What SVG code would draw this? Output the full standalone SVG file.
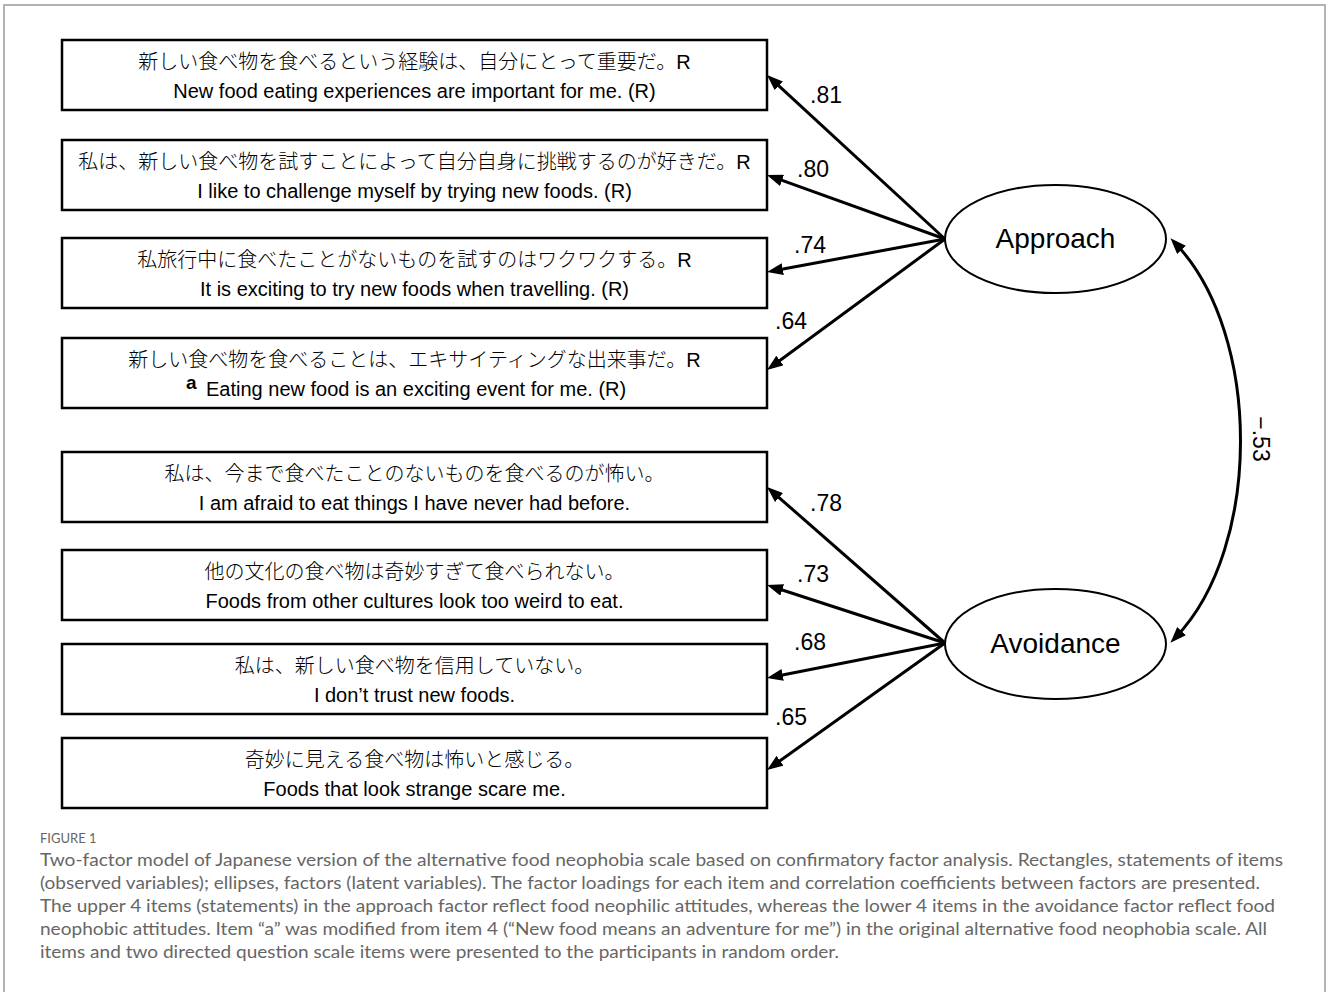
<svg xmlns="http://www.w3.org/2000/svg" width="1328" height="992" viewBox="0 0 1328 992">
<style>
.frame{fill:none;stroke:#b3b3b3;stroke-width:2}
.box{fill:#fff;stroke:#000;stroke-width:2.5}
.ell{fill:#fff;stroke:#000;stroke-width:2}
.jp{font-family:"Noto Sans CJK JP","Noto Sans CJK SC",sans-serif;font-size:20px;font-weight:300;fill:#000;text-anchor:middle}
.r{font-family:"Liberation Sans",Arial,sans-serif;font-weight:400}
.en{font-family:"Liberation Sans",Arial,sans-serif;font-size:20px;fill:#000;text-anchor:middle}
.lab{font-family:"Liberation Sans",Arial,sans-serif;font-size:23px;fill:#000}
.fac{font-family:"Liberation Sans",Arial,sans-serif;font-size:28px;fill:#000;text-anchor:middle}
.arr{fill:none;stroke:#000;stroke-width:3}
.figlab{font-family:Lato,"Open Sans",sans-serif;font-size:13px;fill:#666}
.cap{font-family:Lato,"Open Sans",sans-serif;font-size:17px;fill:#666}
</style>
<defs>
<marker id="ah" viewBox="0 0 16 12" refX="8" refY="6" markerWidth="16" markerHeight="12" markerUnits="userSpaceOnUse" orient="auto-start-reverse">
<path d="M0,0 L16,6 L0,12 z" fill="#000"/>
</marker>
</defs>
<rect width="1328" height="992" fill="#fff"/>
<path class="frame" d="M4,992 V5 H1325 V992"/>

<g id="item1">
<rect class="box" x="62" y="40" width="705" height="70"/>
<text class="jp" x="414.5" y="69">新しい食べ物を食べるという経験は、自分にとって重要だ。<tspan class="r">R</tspan></text>
<text class="en" x="414.5" y="98">New food eating experiences are important for me. (R)</text>
</g>
<g id="item2">
<rect class="box" x="62" y="140" width="705" height="70"/>
<text class="jp" x="414.5" y="169">私は、新しい食べ物を試すことによって自分自身に挑戦するのが好きだ。<tspan class="r">R</tspan></text>
<text class="en" x="414.5" y="198">I like to challenge myself by trying new foods. (R)</text>
</g>
<g id="item3">
<rect class="box" x="62" y="238" width="705" height="70"/>
<text class="jp" x="414.5" y="267">私旅行中に食べたことがないものを試すのはワクワクする。<tspan class="r">R</tspan></text>
<text class="en" x="414.5" y="296">It is exciting to try new foods when travelling. (R)</text>
</g>
<g id="item4">
<rect class="box" x="62" y="338" width="705" height="70"/>
<text class="jp" x="414.5" y="367">新しい食べ物を食べることは、エキサイティングな出来事だ。<tspan class="r">R</tspan></text>
<text x="186" y="389" font-family="Liberation Sans, Arial, sans-serif" font-size="19" font-weight="700">a</text>
<text class="en" x="206" y="396" style="text-anchor:start">Eating new food is an exciting event for me. (R)</text>
</g>
<g id="item5">
<rect class="box" x="62" y="452" width="705" height="70"/>
<text class="jp" x="414.5" y="481">私は、今まで食べたことのないものを食べるのが怖い。</text>
<text class="en" x="414.5" y="510">I am afraid to eat things I have never had before.</text>
</g>
<g id="item6">
<rect class="box" x="62" y="550" width="705" height="70"/>
<text class="jp" x="414.5" y="579">他の文化の食べ物は奇妙すぎて食べられない。</text>
<text class="en" x="414.5" y="608">Foods from other cultures look too weird to eat.</text>
</g>
<g id="item7">
<rect class="box" x="62" y="644" width="705" height="70"/>
<text class="jp" x="414.5" y="673">私は、新しい食べ物を信用していない。</text>
<text class="en" x="414.5" y="702">I don’t trust new foods.</text>
</g>
<g id="item8">
<rect class="box" x="62" y="738" width="705" height="70"/>
<text class="jp" x="414.5" y="767">奇妙に見える食べ物は怖いと感じる。</text>
<text class="en" x="414.5" y="796">Foods that look strange scare me.</text>
</g>

<g id="approach">
<ellipse class="ell" cx="1055.5" cy="239" rx="110.5" ry="54"/>
<text class="fac" x="1055.5" y="248">Approach</text>
</g>
<g id="avoidance">
<ellipse class="ell" cx="1055.5" cy="644" rx="110.5" ry="55"/>
<text class="fac" x="1055.5" y="653">Avoidance</text>
</g>

<g id="connectors">
<line class="arr" x1="945" y1="239" x2="772.9" y2="80.4" marker-end="url(#ah)"/>
<line class="arr" x1="945" y1="239" x2="774.5" y2="177.7" marker-end="url(#ah)"/>
<line class="arr" x1="945" y1="239" x2="774.9" y2="270.5" marker-end="url(#ah)"/>
<line class="arr" x1="945" y1="239" x2="773.4" y2="365.3" marker-end="url(#ah)"/>
<line class="arr" x1="945" y1="643" x2="773.0" y2="492.3" marker-end="url(#ah)"/>
<line class="arr" x1="945" y1="643" x2="774.6" y2="587.5" marker-end="url(#ah)"/>
<line class="arr" x1="945" y1="643" x2="774.8" y2="676.5" marker-end="url(#ah)"/>
<line class="arr" x1="945" y1="643" x2="773.5" y2="765.4" marker-end="url(#ah)"/>
<path class="arr" d="M1176,244 C1262,335 1262,547 1176,637" marker-start="url(#ah)" marker-end="url(#ah)"/>
<text class="lab" x="810" y="103">.81</text>
<text class="lab" x="797" y="177">.80</text>
<text class="lab" x="794" y="253">.74</text>
<text class="lab" x="775" y="329">.64</text>
<text class="lab" x="810" y="511">.78</text>
<text class="lab" x="797" y="582">.73</text>
<text class="lab" x="794" y="650">.68</text>
<text class="lab" x="775" y="725">.65</text>
<text class="lab" transform="translate(1253,439) rotate(90)" text-anchor="middle">−.53</text>
</g>

<g id="caption">
<text class="figlab" x="40" y="843">FIGURE 1</text>
<text class="cap" x="40" y="866" textLength="1243" lengthAdjust="spacingAndGlyphs">Two-factor model of Japanese version of the alternative food neophobia scale based on confirmatory factor analysis. Rectangles, statements of items</text>
<text class="cap" x="40" y="889" textLength="1220" lengthAdjust="spacingAndGlyphs">(observed variables); ellipses, factors (latent variables). The factor loadings for each item and correlation coefficients between factors are presented.</text>
<text class="cap" x="40" y="912" textLength="1235" lengthAdjust="spacingAndGlyphs">The upper 4 items (statements) in the approach factor reflect food neophilic attitudes, whereas the lower 4 items in the avoidance factor reflect food</text>
<text class="cap" x="40" y="935" textLength="1227" lengthAdjust="spacingAndGlyphs">neophobic attitudes. Item “a” was modified from item 4 (“New food means an adventure for me”) in the original alternative food neophobia scale. All</text>
<text class="cap" x="40" y="958" textLength="799" lengthAdjust="spacingAndGlyphs">items and two directed question scale items were presented to the participants in random order.</text>
</g>
</svg>
